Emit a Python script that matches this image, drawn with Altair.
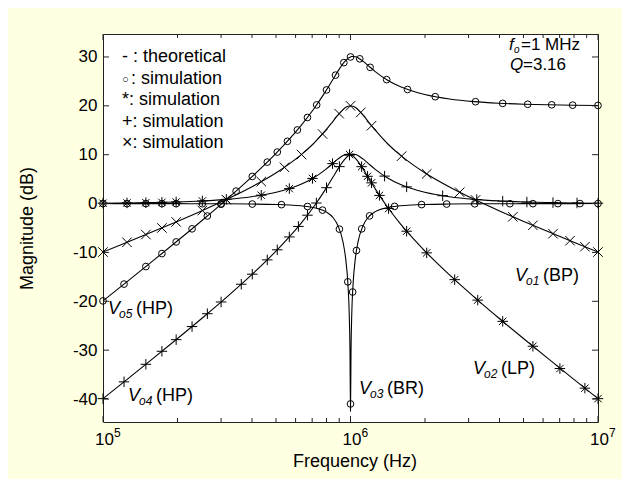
import altair as alt
import pandas as pd

FONT = "Arial, Liberation Sans, sans-serif"
BG = "#FFFFE1"
W, H = 495, 388
HZ = 1e6  # lists below are in MHz

# ---- theoretical curves (frequency in MHz, magnitude in dB) ----
theory_f_mhz = [0.1, 0.12589, 0.15849, 0.19953, 0.25119, 0.31623, 0.39811, 0.50119, 0.56234,
                0.63096, 0.70795, 0.79433, 0.85114, 0.89125, 0.93325, 0.95499, 0.97724, 0.98855,
                0.99541, 1.0, 1.00462, 1.01158, 1.02329, 1.04713, 1.07152, 1.12202, 1.17490,
                1.25893, 1.41254, 1.58489, 1.77828, 1.99526, 2.51189, 3.16228, 3.98107, 5.01187,
                6.30957, 7.94328, 10.0]
theory_vo1_bp = [-9.92, -7.87, -5.79, -3.67, -1.47, 0.86, 3.40, 6.32, 8.02, 9.96, 12.24, 15.01,
                 16.89, 18.15, 19.24, 19.65, 19.91, 19.98, 20.0, 20.0, 20.0, 19.98, 19.91, 19.65,
                 19.24, 18.15, 16.89, 15.01, 12.24, 9.96, 8.02, 6.32, 3.40, 0.86, -1.47, -3.67,
                 -5.79, -7.87, -9.92]
theory_vo2_lp = [0.08, 0.13, 0.21, 0.33, 0.54, 0.86, 1.40, 2.32, 3.02, 3.96, 5.24, 7.01, 8.29,
                 9.15, 9.84, 10.05, 10.11, 10.08, 10.04, 10.0, 9.96, 9.88, 9.71, 9.25, 8.64, 7.15,
                 5.49, 3.01, -0.76, -4.04, -6.98, -9.68, -14.60, -19.14, -23.47, -27.67, -31.79,
                 -35.87, -39.92]
theory_vo3_br = [0.0, -0.01, -0.01, -0.02, -0.03, -0.05, -0.10, -0.19, -0.28, -0.45, -0.80,
                 -1.65, -2.91, -4.59, -7.95, -11.07, -16.83, -22.78, -30.72, -42.5, -30.72,
                 -22.78, -16.83, -11.07, -7.95, -4.59, -2.91, -1.65, -0.80, -0.45, -0.28, -0.19,
                 -0.10, -0.05, -0.03, -0.02, -0.01, -0.01, 0.0]
theory_vo4_hp = [-39.92, -35.87, -31.79, -27.67, -23.47, -19.14, -14.60, -9.68, -6.98, -4.04,
                 -0.76, 3.01, 5.49, 7.15, 8.64, 9.25, 9.71, 9.88, 9.96, 10.0, 10.04, 10.08, 10.11,
                 10.05, 9.84, 9.15, 8.29, 7.01, 5.24, 3.96, 3.02, 2.32, 1.40, 0.86, 0.54, 0.33,
                 0.21, 0.13, 0.08]
theory_vo5_hp = [-19.92, -15.87, -11.79, -7.67, -3.47, 0.86, 5.40, 10.32, 13.02, 15.96, 19.24,
                 23.01, 25.49, 27.15, 28.64, 29.25, 29.71, 29.88, 29.96, 30.0, 30.04, 30.08, 30.11,
                 30.05, 29.84, 29.15, 28.29, 27.01, 25.24, 23.96, 23.02, 22.32, 21.40, 20.86,
                 20.54, 20.33, 20.21, 20.13, 20.08]

# ---- simulation points ----
sim_vo5_f = [0.1, 0.1216, 0.149, 0.173, 0.1975, 0.229, 0.264, 0.300, 0.345, 0.401, 0.461, 0.506,
             0.556, 0.610, 0.670, 0.73, 0.80, 0.87, 0.94, 1.0, 1.09, 1.2, 1.4, 1.7, 2.2, 3.2,
             4.12, 5.2, 6.5, 7.9, 10.0]
sim_vo5_db = [-19.92, -16.48, -12.89, -10.23, -7.85, -5.17, -2.54, -0.14, 2.55, 5.55, 8.48,
              10.54, 12.74, 15.06, 17.62, 20.19, 23.25, 26.28, 28.84, 30.0, 29.62, 27.88, 25.36,
              23.35, 21.87, 20.84, 20.50, 20.32, 20.21, 20.14, 20.08]
sim_vo1_f = [0.1, 0.125, 0.149, 0.173, 0.1975, 0.252, 0.315, 0.436, 0.541, 0.634, 0.771, 0.9,
             1.0, 1.1, 1.216, 1.608, 2.032, 2.762, 3.2, 4.529, 5.457, 6.577, 7.709, 8.853, 10.0]
sim_vo1_db = [-9.92, -7.93, -6.35, -4.99, -3.76, -1.43, 0.82, 4.50, 7.42, 10.04, 14.24, 18.40,
              20.0, 18.65, 15.93, 9.70, 6.07, 2.32, 0.74, -2.71, -4.46, -6.17, -7.60, -8.83, -9.92]
sim_vo2_f = [0.1, 0.125, 0.149, 0.173, 0.1975, 0.252, 0.315, 0.436, 0.566, 0.702, 0.846, 0.991,
             1.109, 1.172, 1.216, 1.309, 1.425, 1.686, 2.032, 2.636, 3.266, 4.121, 5.457, 7.015,
             8.853, 10.0]
sim_vo2_db = [0.08, 0.13, 0.19, 0.25, 0.33, 0.54, 0.86, 1.71, 3.06, 5.14, 8.17, 10.06, 7.55,
              5.58, 4.24, 1.67, -1.02, -5.66, -10.09, -15.57, -19.76, -24.10, -29.20, -33.76,
              -37.78, -39.92]
sim_vo4_f = [0.1, 0.1216, 0.149, 0.173, 0.1975, 0.229, 0.264, 0.300, 0.362, 0.401, 0.461, 0.506,
             0.566, 0.616, 0.670, 0.728, 0.800, 0.902, 0.991, 1.373, 1.686, 2.357, 3.236, 4.121,
             5.16, 6.577, 8.227, 10.0]
sim_vo4_db = [-39.92, -36.48, -32.89, -30.23, -27.85, -25.17, -22.54, -20.14, -16.51, -14.45,
              -11.52, -9.46, -6.83, -4.68, -2.38, 0.11, 3.25, 7.56, 9.90, 5.62, 3.42, 1.61, 0.82,
              0.50, 0.31, 0.19, 0.12, 0.08]
sim_vo3_f = [0.1, 0.125, 0.149, 0.173, 0.1975, 0.252, 0.300, 0.401, 0.526, 0.670, 0.771, 0.902,
             0.975, 1.0, 1.02, 1.057, 1.11, 1.194, 1.507, 1.938, 2.447, 3.177, 4.405, 5.457,
             6.887, 8.458, 10.0]
sim_vo3_db = [0.0, -0.01, -0.01, -0.02, -0.02, -0.03, -0.05, -0.10, -0.22, -0.60, -1.34, -5.24,
              -16.02, -41.0, -18.1, -9.61, -5.17, -2.52, -0.57, -0.21, -0.10, -0.05, -0.03, -0.02,
              -0.01, 0.0, 0.0]

# ---- axes ----
x_major = [1e5, 1e6, 1e7]
x_exp = ["5", "6", "7"]
x_minor = [2e5, 3e5, 4e5, 5e5, 6e5, 7e5, 8e5, 9e5, 2e6, 3e6, 4e6, 5e6, 6e6, 7e6, 8e6, 9e6]
y_major = [-40, -30, -20, -10, 0, 10, 20, 30]

xs = alt.Scale(type="log", domain=[1e5, 1e7], nice=False)
ys = alt.Scale(domain=[-44.7, 34.7], nice=False, zero=False)

series = []
for name, vals in [("vo1", theory_vo1_bp), ("vo2", theory_vo2_lp), ("vo3", theory_vo3_br),
                   ("vo4", theory_vo4_hp), ("vo5", theory_vo5_hp)]:
    series.append(pd.DataFrame({"f": [v * HZ for v in theory_f_mhz], "db": vals, "s": name}))
lines_df = pd.concat(series, ignore_index=True)

x_axis = alt.Axis(title="Frequency (Hz)", labels=False, ticks=False, domain=False, grid=False,
                  titleFont=FONT, titleFontSize=18, titleFontWeight="normal", titleColor="black",
                  titleY=39, titleX=W / 2 + 4, titleBaseline="middle")
y_axis = alt.Axis(values=y_major, title="Magnitude (dB)", ticks=False, domain=False, grid=False,
                  labelExpr="datum.value + ''",
                  labelFont=FONT, labelFontSize=17, labelColor="black", labelPadding=6,
                  titleFont=FONT, titleFontSize=18, titleFontWeight="normal", titleColor="black",
                  titleX=-76, titleY=H / 2, titleAngle=-90, titleAlign="center",
                  titleBaseline="middle")

lines = alt.Chart(lines_df).mark_line(color="black", strokeWidth=1.1, interpolate="monotone",
                                      clip=True).encode(
    x=alt.X("f:Q", scale=xs, axis=x_axis),
    y=alt.Y("db:Q", scale=ys, axis=y_axis),
    detail="s:N",
)

STAR = "M-1,0L1,0M0,-1L0,1M-0.7,-0.7L0.7,0.7M-0.7,0.7L0.7,-0.7"
PLUS = "M-1,0L1,0M0,-1L0,1"
CROSS = "M-1,-1L1,1M-1,1L1,-1"


def markers(fl, dbl, shape, size):
    df = pd.DataFrame({"f": [v * HZ for v in fl], "db": dbl})
    return alt.Chart(df).mark_point(shape=shape, size=size, filled=False, color="black",
                                    strokeWidth=1, opacity=1).encode(
        x=alt.X("f:Q", scale=xs), y=alt.Y("db:Q", scale=ys))


m5 = markers(sim_vo5_f, sim_vo5_db, "circle", 45)
m3 = markers(sim_vo3_f, sim_vo3_db, "circle", 45)
m1 = markers(sim_vo1_f, sim_vo1_db, CROSS, 90)
m2 = markers(sim_vo2_f, sim_vo2_db, STAR, 110)
m4 = markers(sim_vo4_f, sim_vo4_db, PLUS, 110)

# ---- inward ticks on all four sides ----
xmaj_df = pd.DataFrame({"f": x_major, "e": x_exp})
xmin_df = pd.DataFrame({"f": x_minor})
ymaj_df = pd.DataFrame({"db": y_major})


def xticks(df, y0, y1):
    return alt.Chart(df).mark_rule(color="#222", strokeWidth=1).encode(
        x=alt.X("f:Q", scale=xs), y=alt.value(y0), y2=alt.value(y1))


def yticks(x0, x1):
    return alt.Chart(ymaj_df).mark_rule(color="#222", strokeWidth=1).encode(
        y=alt.Y("db:Q", scale=ys), x=alt.value(x0), x2=alt.value(x1))


ticks = [xticks(xmaj_df, H, H - 6), xticks(xmaj_df, 0, 6), xticks(xmin_df, H, H - 4),
         xticks(xmin_df, 0, 4), yticks(0, 6), yticks(W, W - 6)]

xlab_base = alt.Chart(xmaj_df).mark_text(text="10", font=FONT, fontSize=17, color="black",
                                         align="center", baseline="middle", dx=1.5).encode(
    x=alt.X("f:Q", scale=xs), y=alt.value(H + 18))
xlab_exp = alt.Chart(xmaj_df).mark_text(font=FONT, fontSize=12, color="black",
                                        align="left", baseline="middle", dx=11).encode(
    x=alt.X("f:Q", scale=xs), y=alt.value(H + 11), text="e:N")

one = pd.DataFrame({"a": [0]})


def txt(s, x, y, size=18, italic=False):
    return alt.Chart(one).mark_text(text=s, align="left", baseline="alphabetic", font=FONT,
                                    fontSize=size, fontStyle="italic" if italic else "normal",
                                    color="black").encode(x=alt.value(x), y=alt.value(y))


notes = [
    txt("- : theoretical", 19, 28),
    txt("○", 19, 49, size=11),
    txt(": simulation", 28, 49.5),
    txt("*: simulation", 19, 71),
    txt("+: simulation", 19, 92.5),
    txt("×: simulation", 19, 114),
    txt("f", 406, 16, size=17, italic=True),
    txt("o", 411, 19, size=10, italic=True),
    txt("=1 MHz", 418, 16, size=17),
    txt("Q", 407, 36, size=17, italic=True),
    txt("=3.16", 420, 36, size=17),
]


def vlabel(x, y, sub, rest):
    return [txt("V", x, y, italic=True), txt(sub, x + 11, y + 4, size=12, italic=True),
            txt(rest, x + 28, y)]


notes += vlabel(5, 280, "o5", "(HP)")
notes += vlabel(25, 367, "o4", "(HP)")
notes += vlabel(256, 360, "o3", "(BR)")
notes += vlabel(370, 340, "o2", "(LP)")
notes += vlabel(412, 247, "o1", "(BP)")

chart = alt.layer(lines, m5, m3, m1, m2, m4, *ticks, xlab_base, xlab_exp, *notes).properties(
    width=W, height=H, background=BG,
    padding={"left": 95, "top": 26, "right": 24, "bottom": 57},
    autosize=alt.AutoSizeParams(type="none"),
).configure_view(stroke="#222", strokeWidth=1, fill="white")

chart.save("out.html", embed_options={"renderer": "svg", "actions": False})
